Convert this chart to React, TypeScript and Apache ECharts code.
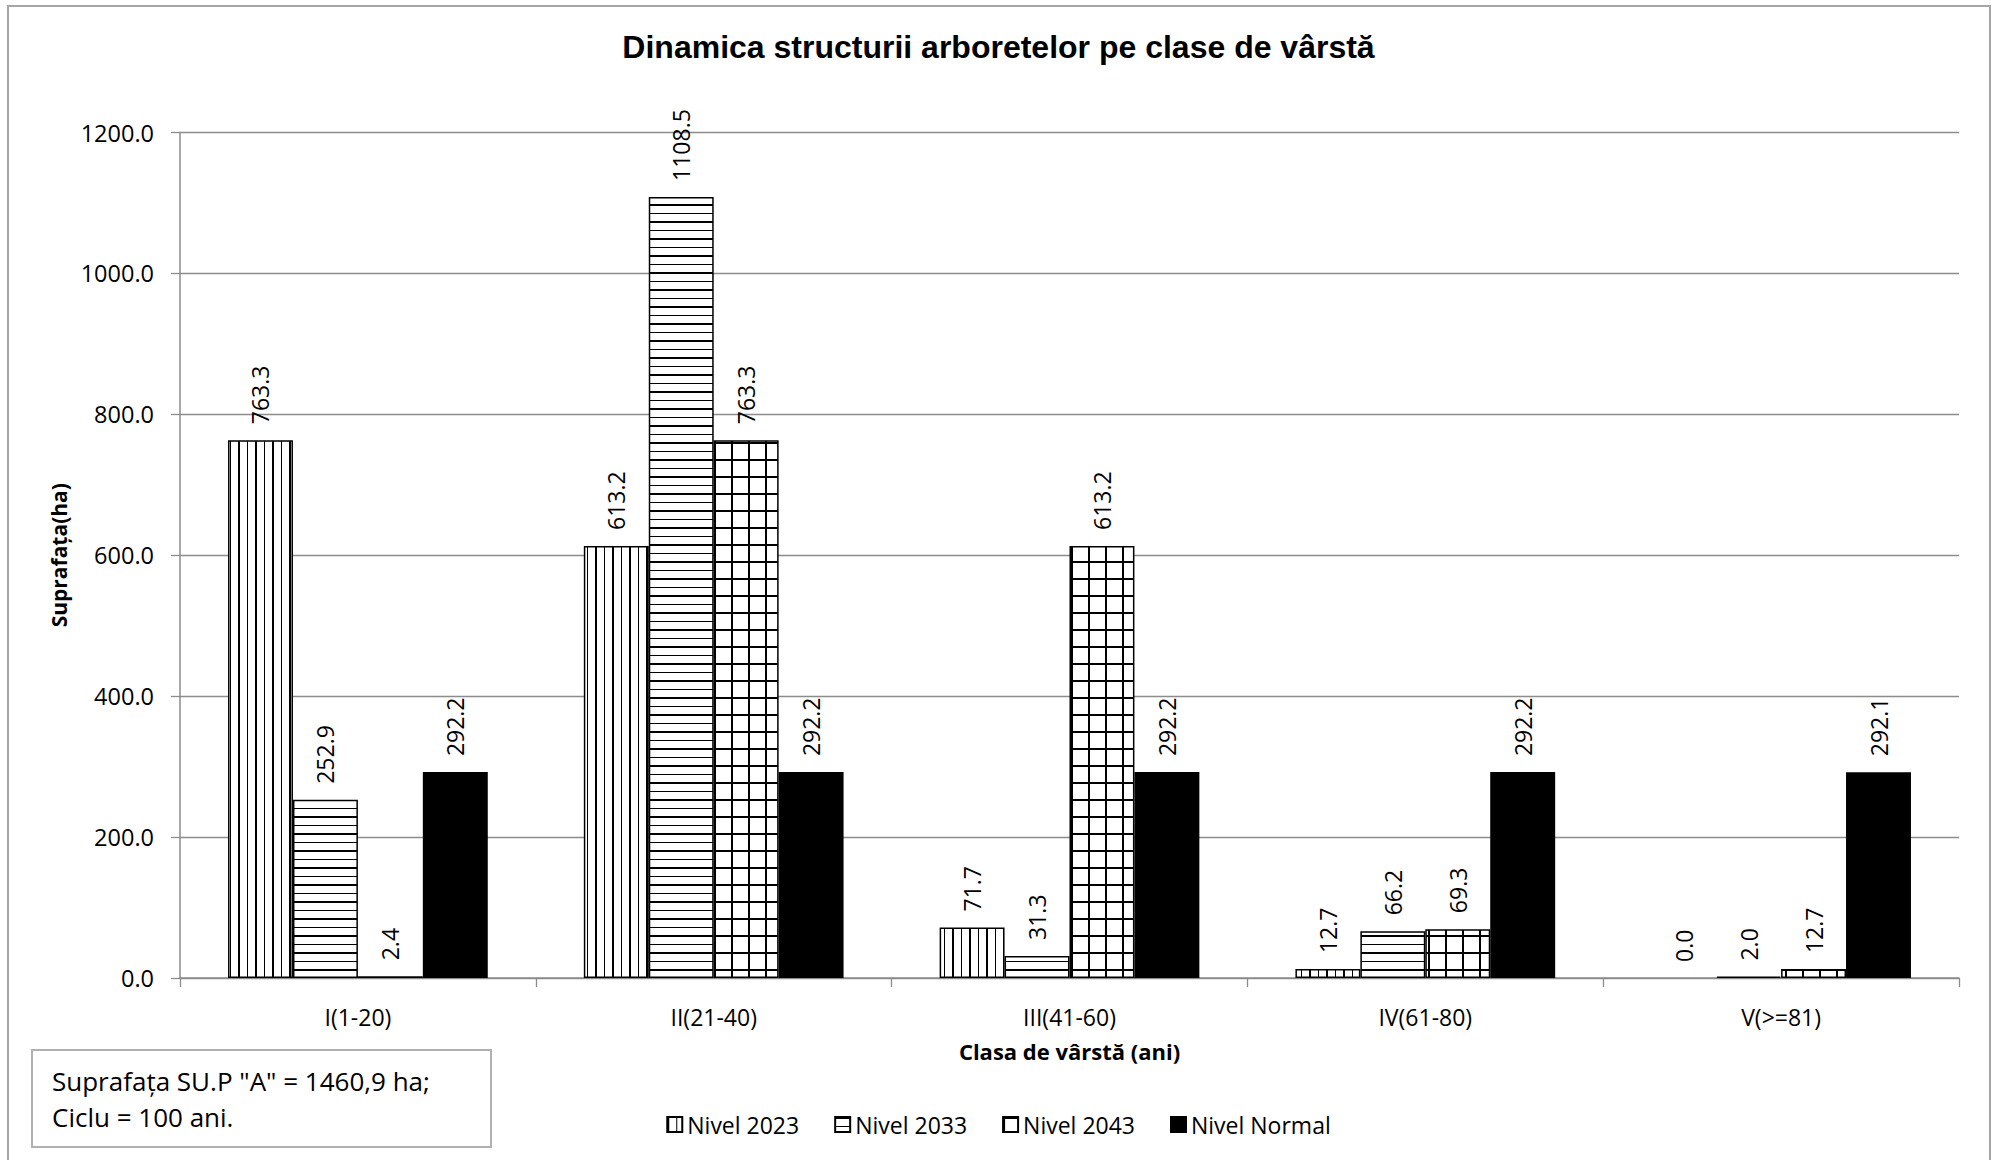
import React, { useEffect, useRef } from 'react';
import * as echarts from 'echarts';

const categories = ['I(1-20)', 'II(21-40)', 'III(41-60)', 'IV(61-80)', 'V(>=81)'];
const nivel2023 = [763.3, 613.2, 71.7, 12.7, 0.0];
const nivel2033 = [252.9, 1108.5, 31.3, 66.2, 2.0];
const nivel2043 = [2.4, 763.3, 613.2, 69.3, 12.7];
const nivelNormal = [292.2, 292.2, 292.2, 292.2, 292.1];
const seriesNames = ['Nivel 2023', 'Nivel 2033', 'Nivel 2043', 'Nivel Normal'];
const yMin = 0;
const yMax = 1200;
const yInterval = 200;
const titleText = 'Dinamica structurii arboretelor pe clase de vârstă';
const xAxisName = 'Clasa de vârstă (ani)';
const yAxisName = 'Suprafața(ha)';
const noteLines = ['Suprafața SU.P "A" = 1460,9 ha;', 'Ciclu = 100 ani.'];

function makePattern(kind: string) {
  const size = 17;
  const c = document.createElement('canvas');
  c.width = size;
  c.height = size;
  const ctx = c.getContext('2d') as CanvasRenderingContext2D;
  ctx.fillStyle = '#ffffff';
  ctx.fillRect(0, 0, size, size);
  ctx.fillStyle = '#000000';
  if (kind === 'v') {
    ctx.fillRect(0, 0, 2, size);
    ctx.fillRect(9, 0, 1, size);
  } else if (kind === 'h') {
    ctx.fillRect(0, 0, size, 2);
    ctx.fillRect(0, 9, size, 1);
  } else {
    ctx.fillRect(0, 0, 2, size);
    ctx.fillRect(0, 0, size, 2);
  }
  return { image: c, repeat: 'repeat', imageWidth: size, imageHeight: size } as any;
}

const FONT = 'Open Sans';

export default function App() {
  const ref = useRef<HTMLDivElement>(null);
  useEffect(() => {
    if (!ref.current) return;
    const chart = echarts.init(ref.current, null, { renderer: 'svg' });
    const fills = [makePattern('v'), makePattern('h'), makePattern('g'), '#000000'];
    const dataSets = [nivel2023, nivel2033, nivel2043, nivelNormal];
    const series = dataSets.map((d, i) => ({
      name: seriesNames[i],
      type: 'bar',
      data: d.map((v) => (v === 0 ? { value: v, itemStyle: { borderWidth: 0 } } : v)),
      barGap: '0%',
      barCategoryGap: '27%',
      itemStyle: { color: fills[i], borderColor: '#000', borderWidth: 1.5 },
      label: {
        show: true,
        position: 'top',
        rotate: 90,
        align: 'left',
        verticalAlign: 'middle',
        distance: 16,
        fontFamily: FONT,
        fontSize: 23,
        color: '#000',
        formatter: (p: any) => Number(p.value).toFixed(1),
      },
    }));
    chart.setOption({
      animation: false,
      backgroundColor: '#ffffff',
      title: {
        text: titleText,
        left: 'center',
        top: 26,
        textStyle: { fontFamily: 'Liberation Sans', fontWeight: 'bold', fontSize: 32, color: '#000' },
      },
      grid: { left: 180, right: 38, top: 132.5, bottom: 182, containLabel: false },
      legend: {
        data: seriesNames,
        left: 'center',
        top: 1108,
        icon: 'rect',
        itemWidth: 15,
        itemHeight: 15,
        itemGap: 35,
        textStyle: { fontFamily: FONT, fontSize: 23, color: '#000' },
      },
      xAxis: {
        type: 'category',
        data: categories,
        name: xAxisName,
        nameLocation: 'middle',
        nameGap: 62,
        nameTextStyle: { fontFamily: FONT, fontWeight: 'bold', fontSize: 22, color: '#000' },
        axisLine: { lineStyle: { color: '#8c8c8c', width: 1.5 } },
        axisTick: { show: true, length: 9, lineStyle: { color: '#8c8c8c', width: 1.3 } },
        axisLabel: { fontFamily: FONT, fontSize: 23, color: '#000', margin: 27 },
        splitLine: { show: false },
      },
      yAxis: {
        type: 'value',
        min: yMin,
        max: yMax,
        interval: yInterval,
        name: yAxisName,
        nameLocation: 'middle',
        nameRotate: 90,
        nameGap: 106,
        nameTextStyle: { fontFamily: FONT, fontWeight: 'bold', fontSize: 21, color: '#000' },
        axisLine: { show: true, lineStyle: { color: '#8c8c8c', width: 1.5 } },
        axisTick: { show: true, length: 9, lineStyle: { color: '#8c8c8c', width: 1.3 } },
        axisLabel: {
          fontFamily: FONT,
          fontSize: 23.5,
          color: '#000',
          margin: 26,
          formatter: (v: number) => v.toFixed(1),
        },
        splitLine: { show: true, lineStyle: { color: '#8c8c8c', width: 1.3 } },
      },
      series,
      graphic: [
        {
          type: 'rect',
          shape: { x: 8, y: 6, width: 1982, height: 1170 },
          style: { fill: 'none', stroke: '#a6a6a6', lineWidth: 2 },
          silent: true,
          z: -1,
        },
        {
          type: 'rect',
          shape: { x: 32, y: 1050, width: 459, height: 97 },
          style: { fill: '#fff', stroke: '#b0b0b0', lineWidth: 2 },
          silent: true,
        },
        {
          type: 'text',
          x: 52,
          y: 1081,
          style: {
            text: noteLines[0],
            fontFamily: FONT,
            fontSize: 26,
            fill: '#000',
            verticalAlign: 'middle',
          },
        },
        {
          type: 'text',
          x: 52,
          y: 1117,
          style: {
            text: noteLines[1],
            fontFamily: FONT,
            fontSize: 26,
            fill: '#000',
            verticalAlign: 'middle',
          },
        },
      ],
    });
    return () => chart.dispose();
  }, []);
  return (
    <div
      ref={ref}
      style={{ position: 'fixed', left: 0, top: 0, width: 1997, height: 1160, background: '#fff' }}
    />
  );
}
